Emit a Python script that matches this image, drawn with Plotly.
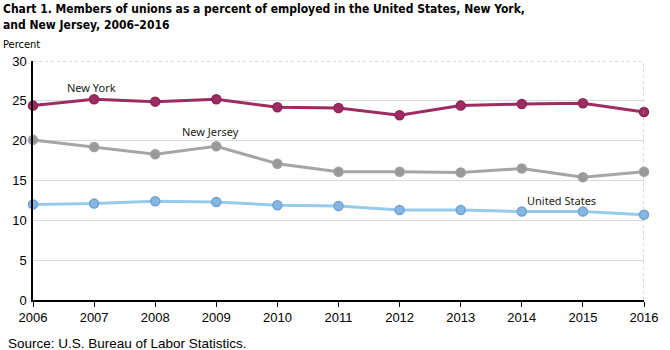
import plotly.graph_objects as go

years = [2006, 2007, 2008, 2009, 2010, 2011, 2012, 2013, 2014, 2015, 2016]
new_york = [24.4, 25.2, 24.9, 25.2, 24.2, 24.1, 23.2, 24.4, 24.6, 24.7, 23.6]
new_jersey = [20.1, 19.2, 18.3, 19.3, 17.1, 16.1, 16.1, 16.0, 16.5, 15.4, 16.1]
united_states = [12.0, 12.1, 12.4, 12.3, 11.9, 11.8, 11.3, 11.3, 11.1, 11.1, 10.7]
y_ticks = [0, 5, 10, 15, 20, 25, 30]

W, H = 670, 350
ML, MR, MT, MB = 29, 17, 61, 50
PW, PH = W - ML - MR, H - MT - MB

def px_x(x):
    return (x - ML) / PW

def px_y(y):
    return (H - MB - y) / PH

NARROW = "DejaVu Sans Condensed, Liberation Sans, sans-serif"
ARIAL = "Liberation Sans, Arial, sans-serif"

fig = go.Figure()

series = [
    (new_jersey, "New Jersey", "#A5A5A5", "#999999", "#A0A0A0"),
    (united_states, "United States", "#96CBEA", "#86B6E2", "#6FA3D6"),
    (new_york, "New York", "#9E2C62", "#9E2C62", "#8E2457"),
]
for vals, name, lc, mc, mlc in series:
    fig.add_trace(go.Scatter(
        x=years, y=vals, name=name, mode="lines+markers",
        line=dict(color=lc, width=3),
        marker=dict(size=9, color=mc, line=dict(color=mlc, width=1.5)),
        cliponaxis=False, hoverinfo="x+y+name",
    ))

labels = [
    ("New York", 2006.95, 26.7),
    ("New Jersey", 2008.9, 21.1),
    ("United States", 2014.65, 12.55),
]
for t, x, y in labels:
    fig.add_annotation(x=x, y=y, text=t, showarrow=False,
                       font=dict(family="Noto Sans, Open Sans, sans-serif", size=11, color="#222222"))

fig.add_annotation(xref="paper", yref="paper", x=px_x(-4), y=px_y(9), xanchor="left", yanchor="middle",
                   text="<b>Chart 1. Members of unions as a percent of employed in the United States, New York,</b>",
                   showarrow=False, font=dict(family=NARROW, size=12, color="#000000"))
fig.add_annotation(xref="paper", yref="paper", x=px_x(-4), y=px_y(25), xanchor="left", yanchor="middle",
                   text="<b>and New Jersey, 2006–2016</b>",
                   showarrow=False, font=dict(family=NARROW, size=12, color="#000000"))
fig.add_annotation(xref="paper", yref="paper", x=px_x(-4), y=px_y(44), xanchor="left", yanchor="middle",
                   text="Percent", showarrow=False, font=dict(family=NARROW, size=11, color="#000000"))
fig.add_annotation(xref="paper", yref="paper", x=px_x(1), y=px_y(343), xanchor="left", yanchor="middle",
                   text="Source: U.S. Bureau of Labor Statistics.", showarrow=False,
                   font=dict(family=ARIAL, size=13.5, color="#000000"))

fig.add_shape(type="line", xref="paper", yref="y", x0=0, x1=1, y0=30, y1=30,
              line=dict(color="#B0B0B0", width=1, dash="dot"))
fig.add_shape(type="line", xref="x", yref="paper", x0=2016, x1=2016, y0=0, y1=1,
              line=dict(color="#B0B0B0", width=1, dash="dot"))

fig.update_layout(
    width=W, height=H,
    margin=dict(l=ML, r=MR, t=MT, b=MB),
    paper_bgcolor="white", plot_bgcolor="white",
    showlegend=False,
    font=dict(family=ARIAL, size=13, color="#000000"),
    xaxis=dict(range=[2006, 2016], tickmode="array", tickvals=years, ticktext=[str(y) for y in years],
               showgrid=False, zeroline=False, showline=True, linecolor="#000000", linewidth=1.5,
               ticks="outside", ticklen=5, tickcolor="#000000", tickfont=dict(family=ARIAL, size=13)),
    yaxis=dict(range=[0, 30], tickmode="array", tickvals=y_ticks,
               showgrid=True, gridcolor="#D9D9D9", gridwidth=1, zeroline=False,
               showline=True, linecolor="#000000", linewidth=1.5, ticks="",
               ticklabelstandoff=2, tickfont=dict(family=ARIAL, size=13)),
)

fig.write_html("out.html")
